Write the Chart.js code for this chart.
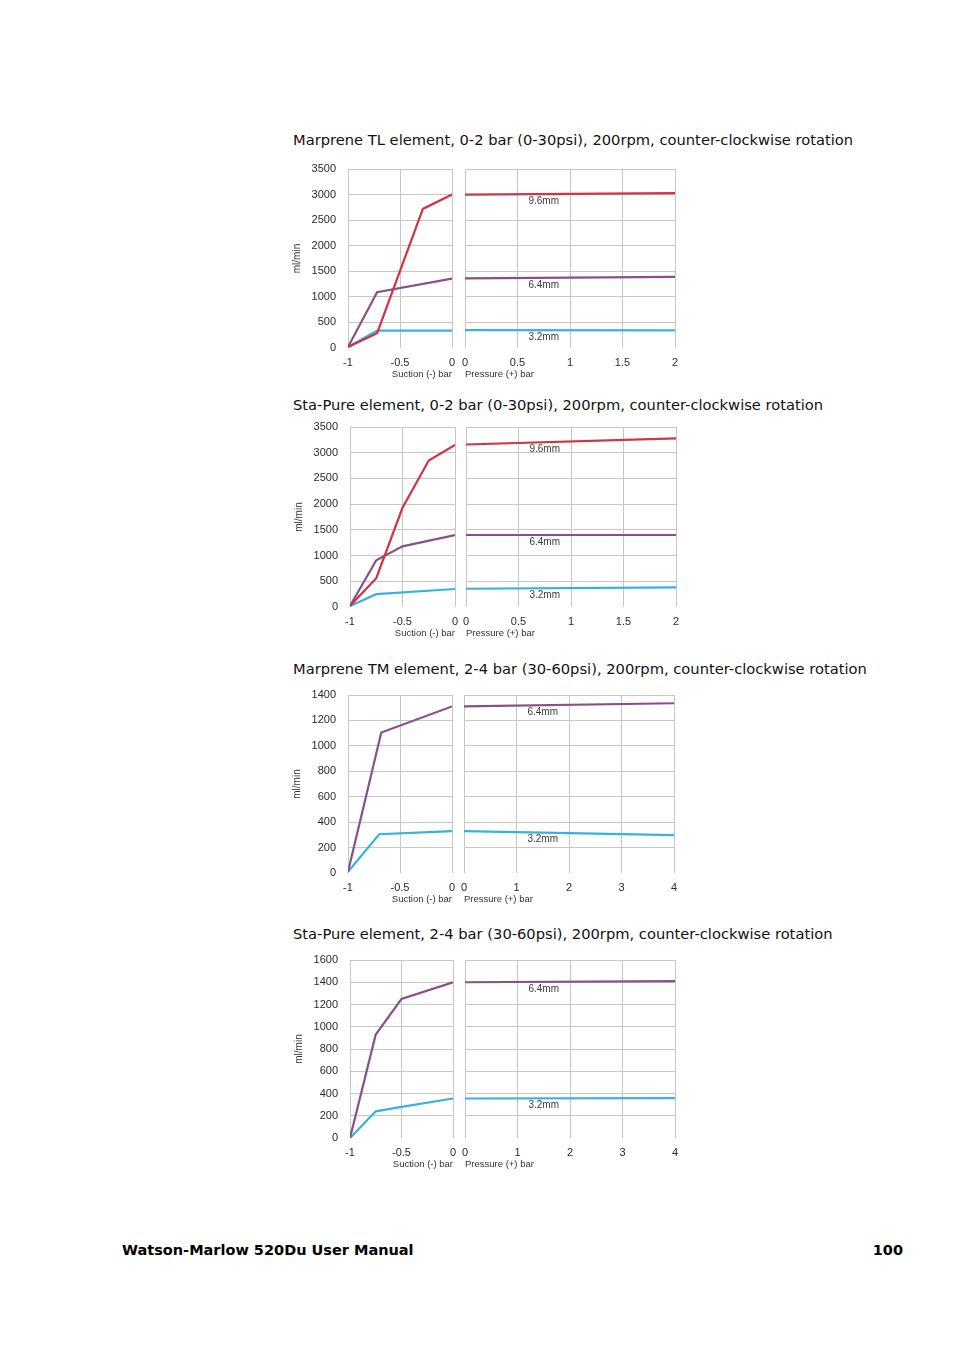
<!DOCTYPE html>
<html>
<head>
<meta charset="utf-8">
<script src="https://cdn.jsdelivr.net/npm/chart.js@4/dist/chart.umd.min.js"></script>
<style>
  html, body { margin:0; padding:0; background:#fff; }
  body { width:954px; height:1350px; position:relative; overflow:hidden; }
  .title { position:absolute; left:293px; font-family:"DejaVu Sans", Verdana, sans-serif; font-size:14.7px; line-height:18px; color:#111; white-space:nowrap; }
  .foot { position:absolute; top:1241px; font-family:"DejaVu Sans", Verdana, sans-serif; font-weight:bold; font-size:14.5px; line-height:18px; color:#000; white-space:nowrap; }
  canvas { position:absolute; }
</style>
</head>
<body>
<div class="title" style="top:131px">Marprene TL element, 0-2 bar (0-30psi), 200rpm, counter-clockwise rotation</div>
<div class="title" style="top:396px">Sta-Pure element, 0-2 bar (0-30psi), 200rpm, counter-clockwise rotation</div>
<div class="title" style="top:660px">Marprene TM element, 2-4 bar (30-60psi), 200rpm, counter-clockwise rotation</div>
<div class="title" style="top:925px">Sta-Pure element, 2-4 bar (30-60psi), 200rpm, counter-clockwise rotation</div>
<div class="foot" style="left:122px">Watson-Marlow 520Du User Manual</div>
<div class="foot" style="right:51px">100</div>

<canvas id="c1s"></canvas><canvas id="c1p"></canvas>
<canvas id="c2s"></canvas><canvas id="c2p"></canvas>
<canvas id="c3s"></canvas><canvas id="c3p"></canvas>
<canvas id="c4s"></canvas><canvas id="c4p"></canvas>

<script>
// ---------- DATA ----------
const seriesNames = ["9.6mm", "6.4mm", "3.2mm"];

// Tick labels
const suctionTicks = [-1, -0.5, 0];
const pressureTicks2 = [0, 0.5, 1, 1.5, 2];
const pressureTicks4 = [0, 1, 2, 3, 4];
const yTicks3500 = [0, 500, 1000, 1500, 2000, 2500, 3000, 3500];
const yTicks1400 = [0, 200, 400, 600, 800, 1000, 1200, 1400];
const yTicks1600 = [0, 200, 400, 600, 800, 1000, 1200, 1400, 1600];

// Chart 1: Marprene TL, 0-2 bar
const c1RedSucX = [-1, -0.72, -0.28, 0];
const c1RedSucY = [20, 290, 2720, 3000];
const c1PurSucX = [-1, -0.72, 0];
const c1PurSucY = [20, 1090, 1355];
const c1CyaSucX = [-1, -0.72, 0];
const c1CyaSucY = [20, 340, 340];
const c1PresX = [0, 2];
const c1RedPresY = [3000, 3030];
const c1PurPresY = [1360, 1390];
const c1CyaPresY = [350, 345];

// Chart 2: Sta-Pure, 0-2 bar
const c2RedSucX = [-1, -0.75, -0.5, -0.25, 0];
const c2RedSucY = [20, 560, 1930, 2850, 3150];
const c2PurSucX = [-1, -0.75, -0.5, 0];
const c2PurSucY = [20, 910, 1180, 1400];
const c2CyaSucX = [-1, -0.75, 0];
const c2CyaSucY = [20, 250, 350];
const c2PresX = [0, 2];
const c2RedPresY = [3160, 3280];
const c2PurPresY = [1400, 1400];
const c2CyaPresY = [355, 380];

// Chart 3: Marprene TM, 2-4 bar
const c3PurSucX = [-1, -0.68, 0];
const c3PurSucY = [10, 1105, 1310];
const c3CyaSucX = [-1, -0.70, 0];
const c3CyaSucY = [10, 305, 330];
const c3PresX = [0, 4];
const c3PurPresY = [1310, 1335];
const c3CyaPresY = [330, 298];

// Chart 4: Sta-Pure, 2-4 bar
const c4PurSucX = [-1, -0.75, -0.5, 0];
const c4PurSucY = [0, 930, 1250, 1400];
const c4CyaSucX = [-1, -0.75, -0.5, 0];
const c4CyaSucY = [0, 240, 280, 355];
const c4PresX = [0, 4];
const c4PurPresY = [1400, 1410];
const c4CyaPresY = [355, 358];

// ---------- STYLE ----------
const COL = { "9.6mm": "#cf3444", "6.4mm": "#87508b", "3.2mm": "#35b2e2" };
const GRID = "#c6c6c6";
const TICKFONT = { family: "'Liberation Sans', Arial, sans-serif", size: 11 };
const TICKCOL = "#2a2a2a";

function pts(xs, ys) { return xs.map((x, i) => ({ x: x, y: ys[i] })); }
function ds(name, xs, ys) {
  return { label: name, data: pts(xs, ys), borderColor: COL[name], borderWidth: 2.2,
           pointRadius: 0, tension: 0, fill: false };
}

const labelPlugin = {
  id: 'lineLabels',
  afterDatasetsDraw(chart) {
    if (!chart.options.plugins.lineLabels || !chart.options.plugins.lineLabels.show) return;
    const xs = chart.scales.x, ys = chart.scales.y, ctx = chart.ctx;
    const lx = xs.min + (xs.max - xs.min) * 0.375;
    ctx.save();
    ctx.font = "10px 'Liberation Sans', Arial, sans-serif";
    ctx.fillStyle = "#3a3a3a";
    ctx.textAlign = "center";
    ctx.textBaseline = "middle";
    chart.data.datasets.forEach(d => {
      const p = d.data;
      let v = p[0].y;
      for (let i = 0; i < p.length - 1; i++) {
        if (lx >= p[i].x && lx <= p[i + 1].x) {
          v = p[i].y + (p[i + 1].y - p[i].y) * (lx - p[i].x) / (p[i + 1].x - p[i].x);
        }
      }
      ctx.fillText(d.label, xs.getPixelForValue(lx), ys.getPixelForValue(v) + 7);
    });
    ctx.restore();
  }
};

const PADT = 10, YW = 57, XH = 32, PADR = 6;

function makePanel(id, area, xTicks, yTicks, datasets, isLeft) {
  const cv = document.getElementById(id);
  const padL = isLeft ? 0 : 6;
  const yw = isLeft ? YW : 0;
  const left = area.a - yw - padL;
  const top = area.t - PADT;
  const w = Math.round(area.b - area.a + yw + padL + PADR);
  const h = Math.round(area.u - area.t + PADT + XH);
  cv.style.left = left + "px";
  cv.style.top = top + "px";
  cv.width = w; cv.height = h;
  cv.style.width = w + "px"; cv.style.height = h + "px";
  new Chart(cv, {
    type: 'line',
    data: { datasets: datasets },
    plugins: [labelPlugin],
    options: {
      responsive: false, animation: false, events: [],
      layout: { padding: { top: PADT, left: padL, right: PADR, bottom: 0 } },
      plugins: { legend: { display: false }, tooltip: { enabled: false },
                 lineLabels: { show: !isLeft } },
      scales: {
        x: {
          type: 'linear', min: xTicks[0], max: xTicks[xTicks.length - 1],
          afterBuildTicks: s => { s.ticks = xTicks.map(v => ({ value: v })); },
          afterFit: s => { s.height = XH; s.paddingLeft = 0; s.paddingRight = 0; },
          grid: { color: GRID, lineWidth: 1, drawTicks: false },
          border: { display: false },
          ticks: { font: TICKFONT, color: TICKCOL, padding: 8, maxRotation: 0, autoSkip: false,
                   callback: v => String(v) },
          title: { display: true, text: isLeft ? "Suction (-) bar" : "Pressure (+) bar",
                   align: isLeft ? 'end' : 'start', color: '#333',
                   font: { family: "'Liberation Sans', Arial, sans-serif", size: 9.5 },
                   padding: { top: 0, bottom: 0 } }
        },
        y: {
          type: 'linear', min: yTicks[0], max: yTicks[yTicks.length - 1],
          afterBuildTicks: s => { s.ticks = yTicks.map(v => ({ value: v })); },
          afterFit: s => { s.width = yw; s.paddingTop = 0; s.paddingBottom = 0; },
          grid: { color: c => (c.tick && c.tick.value === 0) ? 'rgba(0,0,0,0)' : GRID,
                  lineWidth: 1, drawTicks: false },
          border: { display: false },
          ticks: { display: isLeft, font: TICKFONT, color: TICKCOL, padding: 12, autoSkip: false,
                   callback: v => String(v) },
          title: { display: isLeft, text: "ml/min", color: '#333',
                   font: { family: "'Liberation Sans', Arial, sans-serif", size: 10 },
                   padding: { top: 0, bottom: 0 } }
        }
      }
    }
  });
}

// Chart 1
makePanel('c1s', { a: 348, b: 452, t: 168.5, u: 347 }, suctionTicks, yTicks3500,
  [ds("9.6mm", c1RedSucX, c1RedSucY), ds("6.4mm", c1PurSucX, c1PurSucY), ds("3.2mm", c1CyaSucX, c1CyaSucY)], true);
makePanel('c1p', { a: 465, b: 675, t: 168.5, u: 347 }, pressureTicks2, yTicks3500,
  [ds("9.6mm", c1PresX, c1RedPresY), ds("6.4mm", c1PresX, c1PurPresY), ds("3.2mm", c1PresX, c1CyaPresY)], false);

// Chart 2
makePanel('c2s', { a: 350, b: 455, t: 426.5, u: 606.5 }, suctionTicks, yTicks3500,
  [ds("9.6mm", c2RedSucX, c2RedSucY), ds("6.4mm", c2PurSucX, c2PurSucY), ds("3.2mm", c2CyaSucX, c2CyaSucY)], true);
makePanel('c2p', { a: 466, b: 676, t: 426.5, u: 606.5 }, pressureTicks2, yTicks3500,
  [ds("9.6mm", c2PresX, c2RedPresY), ds("6.4mm", c2PresX, c2PurPresY), ds("3.2mm", c2PresX, c2CyaPresY)], false);

// Chart 3
makePanel('c3s', { a: 347.5, b: 451, t: 694.5, u: 872.5 }, suctionTicks, yTicks1400,
  [ds("6.4mm", c3PurSucX, c3PurSucY), ds("3.2mm", c3CyaSucX, c3CyaSucY)], true);
makePanel('c3p', { a: 464, b: 673.5, t: 694.5, u: 872.5 }, pressureTicks4, yTicks1400,
  [ds("6.4mm", c3PresX, c3PurPresY), ds("3.2mm", c3PresX, c3CyaPresY)], false);

// Chart 4
makePanel('c4s', { a: 350, b: 452.5, t: 960, u: 1138 }, suctionTicks, yTicks1600,
  [ds("6.4mm", c4PurSucX, c4PurSucY), ds("3.2mm", c4CyaSucX, c4CyaSucY)], true);
makePanel('c4p', { a: 465, b: 674.5, t: 960, u: 1138 }, pressureTicks4, yTicks1600,
  [ds("6.4mm", c4PresX, c4PurPresY), ds("3.2mm", c4PresX, c4CyaPresY)], false);
</script>
</body>
</html>
